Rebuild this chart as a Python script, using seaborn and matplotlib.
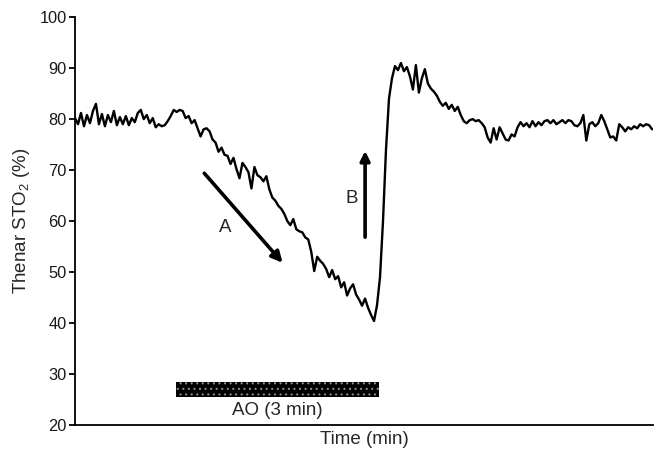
import numpy as np
import pandas as pd
import matplotlib.pyplot as plt
import seaborn as sns

# Thenar StO2 trace (%), one sample every ~2.6 s
sto2 = [
    80.2, 79.0, 81.2, 78.6, 80.8, 79.2, 81.6, 83.0, 79.0, 81.0,
    78.6, 80.8, 79.4, 81.6, 78.8, 80.4, 79.0, 80.6, 78.8, 80.2,
    79.4, 81.2, 81.8, 80.0, 80.8, 79.2, 80.2, 78.4, 79.0, 78.6,
    78.8, 79.6, 80.6, 81.8, 81.4, 81.8, 81.6, 80.2, 80.6, 79.2,
    79.8, 78.2, 76.6, 78.0, 78.2, 77.6, 76.0, 75.4, 73.6, 74.4,
    73.0, 72.8, 71.2, 72.4, 70.2, 68.4, 71.4, 70.6, 69.6, 66.4,
    70.6, 69.0, 68.6, 67.8, 68.8, 66.2, 64.6, 64.0, 63.0, 62.4,
    61.4, 60.0, 59.2, 60.4, 58.4, 58.0, 57.8, 56.8, 56.4, 54.0,
    50.2, 53.0, 52.2, 51.6, 50.6, 49.0, 50.4, 48.6, 49.2, 47.0,
    48.0, 45.4, 46.8, 47.6, 45.6, 44.6, 43.4, 44.8, 43.0, 41.6,
    40.4, 43.5, 49.0, 60.0, 74.0, 84.0, 88.0, 90.4, 89.6, 91.0,
    89.4, 90.2, 88.4, 85.8, 90.6, 85.2, 88.0, 89.8, 87.0, 86.0,
    85.4, 84.6, 83.4, 82.6, 83.2, 82.0, 82.8, 81.6, 82.4, 80.8,
    79.6, 79.2, 79.8, 80.0, 79.6, 79.8, 79.2, 78.4, 76.4, 75.4,
    78.2, 76.0, 78.4, 77.2, 76.0, 75.8, 77.0, 76.6, 78.4, 79.4,
    78.6, 79.2, 78.4, 79.6, 78.6, 79.4, 78.8, 79.6, 79.8, 79.2,
    79.8, 79.0, 79.4, 79.8, 79.2, 79.8, 79.6, 78.8, 78.6, 79.2,
    80.8, 75.8, 79.0, 79.4, 78.6, 79.2, 80.8, 79.6, 78.0, 76.4,
    76.6, 75.8, 79.0, 78.4, 77.6, 78.4, 78.0, 78.6, 78.2, 79.0,
    78.6, 79.0, 78.8, 78.0,
]
sample_interval_min = 3 / 68

# arterial occlusion (AO)
ao_start_min = 1.485
ao_duration_min = 3.0

y_ticks = [20, 30, 40, 50, 60, 70, 80, 90, 100]

df = pd.DataFrame({'time': np.arange(len(sto2)) * sample_interval_min, 'sto2': sto2})

sns.set_style('ticks')
plt.rcParams['font.family'] = ['Liberation Sans', 'DejaVu Sans']
plt.rcParams['mathtext.default'] = 'regular'
plt.rcParams['hatch.linewidth'] = 0.8

fig = plt.figure(figsize=(6.54, 4.51), dpi=100)
ax = fig.add_axes([0.1147, 0.0576, 0.884, 0.9044])

sns.lineplot(data=df, x='time', y='sto2', color='black', lw=1.7, ax=ax)

# barra de oclusion con patron punteado
ax.barh(y=26.95, width=ao_duration_min, left=ao_start_min, height=2.9,
        color='black', edgecolor='#8a8a8a', hatch='...', linewidth=0)
ax.text(ao_start_min + ao_duration_min / 2, 22.9, 'AO (3 min)',
        ha='center', va='center', fontsize=13.5)

# flechas A y B
ax.annotate('', xy=(3.09, 51.4), xytext=(1.88, 69.8),
            arrowprops=dict(arrowstyle='-|>', color='black', lw=2.6, mutation_scale=16))
ax.text(2.22, 58.8, 'A', ha='center', va='center', fontsize=13.5)
ax.annotate('', xy=(4.28, 74.3), xytext=(4.28, 56.3),
            arrowprops=dict(arrowstyle='-|>', color='black', lw=2.6, mutation_scale=14))
ax.text(4.09, 64.4, 'B', ha='center', va='center', fontsize=13.5)

ax.set_xlim(0, 8.53)
ax.set_ylim(20, 100)
ax.set_yticks(y_ticks)
ax.set_xticks([])
ax.tick_params(axis='y', labelsize=11.8, length=4, width=1.3, color='black',
               labelcolor='#1a1a1a', pad=2)
ax.set_xlabel('Time (min)', fontsize=13.5, labelpad=4)
ax.set_ylabel('Thenar STO$_2$ (%)', fontsize=13.5, labelpad=5)
for s in ['left', 'bottom']:
    ax.spines[s].set_linewidth(1.3)
    ax.spines[s].set_color('black')
sns.despine(ax=ax)

fig.savefig('out.png', dpi=100)
